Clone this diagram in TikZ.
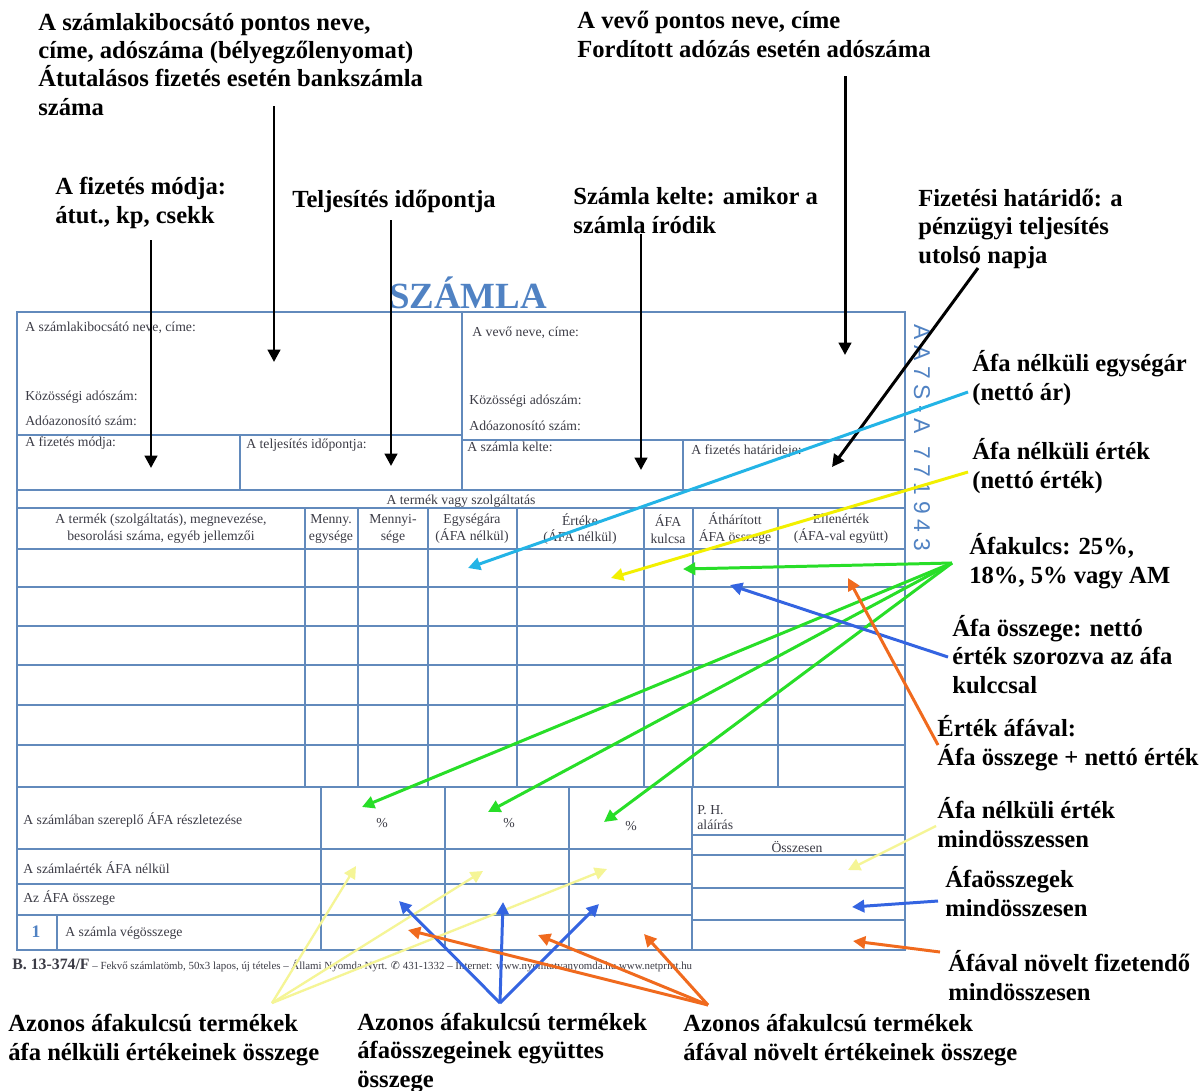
\documentclass[tikz,border=0pt]{standalone}
\usepackage{fontspec}
\setmainfont{Liberation Serif}
\newfontfamily\codefont[LetterSpace=25]{Liberation Sans}
\newfontfamily\symfont{DejaVu Sans}
\usetikzlibrary{arrows.meta}
\definecolor{formblue}{RGB}{98,138,188}
\definecolor{titleblue}{RGB}{80,130,195}
\definecolor{formtext}{RGB}{60,60,70}
\definecolor{arrcyan}{RGB}{35,180,230}
\definecolor{arryellow}{RGB}{242,240,0}
\definecolor{arrpale}{RGB}{245,245,150}
\definecolor{arrgreen}{RGB}{40,222,40}
\definecolor{arrblue}{RGB}{52,100,225}
\definecolor{arrorange}{RGB}{240,106,30}
\tikzset{
  note/.style={font=\fontsize{14}{16}\selectfont\bfseries,align=left,anchor=base west,inner sep=0pt},
  formtxt/.style={font=\fontsize{7.8}{9.5}\selectfont,text=formtext,anchor=base west,inner sep=0pt},
  colhead/.style={font=\fontsize{7.8}{9.6}\selectfont,text=formtext,align=center,inner sep=0pt},
  formframe/.style={draw=formblue,line width=1.6pt},
  formline/.style={draw=formblue,line width=1.1pt},
  arr/.style={line width=1.7pt,-{Triangle[length=7pt,width=7pt]}}
}

\begin{document}
\begin{tikzpicture}[x=0.02cm,y=-0.02cm]
\useasboundingbox[fill=white] (0,0) rectangle (1204,1090);

% the form
\draw[formframe] (17,312) rectangle (905,950);
\draw[formline] (462,312) -- (462,490);
\draw[formline] (17,435) -- (462,435);
\draw[formline] (462,440) -- (905,440);
\draw[formline] (240,435) -- (240,490);
\draw[formline] (683,440) -- (683,490);
\draw[formline] (17,490) -- (905,490);
\draw[formline] (17,508) -- (905,508);
\foreach \y in {549,587,626,665,705,745,787}
  \draw[formline] (17,\y) -- (905,\y);
\foreach \x in {305,358,428,517,644,693,778}
  \draw[formline] (\x,508) -- (\x,787);
\foreach \x in {321,445,569,692}
  \draw[formline] (\x,787) -- (\x,950);
\foreach \y in {849,884,915}
  \draw[formline] (17,\y) -- (692,\y);
\foreach \y in {835,855,888,920}
  \draw[formline] (692,\y) -- (905,\y);
\draw[formline] (57,915) -- (57,950);

\node[font=\fontsize{21}{21}\selectfont\bfseries,text=titleblue] (title) at (468,293) {SZÁMLA};
\node[font=\codefont\fontsize{13}{13}\selectfont,text=titleblue,rotate=-90,anchor=west] (code) at (922,318) {AA7S-A 771943};

\node[formtxt] (sellerName) at (25,331) {A számlakibocsátó neve, címe:};
\node[formtxt] (sellerEu) at (25,400) {Közösségi adószám:};
\node[formtxt] (sellerTax) at (25,425) {Adóazonosító szám:};
\node[formtxt] (payMode) at (25,446) {A fizetés módja:};
\node[formtxt] (perfDate) at (246,448) {A teljesítés időpontja:};
\node[formtxt] (buyerName) at (472,336) {A vevő neve, címe:};
\node[formtxt] (buyerEu) at (469,404) {Közösségi adószám:};
\node[formtxt] (buyerTax) at (469,430) {Adóazonosító szám:};
\node[formtxt] (issueDate) at (467,451) {A számla kelte:};
\node[formtxt] (dueDate) at (691,454) {A fizetés határideje:};
\node[colhead] (goods) at (461,501) {A termék vagy szolgáltatás};
\node[colhead] (hName) at (161,529) {A termék (szolgáltatás), megnevezése,\\besorolási száma, egyéb jellemzői};
\node[colhead] (hUnit) at (331,529) {Menny.\\egysége};
\node[colhead] (hQty) at (393,529) {Mennyi-\\sége};
\node[colhead] (hPrice) at (472,529) {Egységára\\(ÁFA nélkül)};
\node[colhead] (hValue) at (580,529) {Értéke\\(ÁFA nélkül)};
\node[colhead] (hRate) at (668,529) {ÁFA\\kulcsa};
\node[colhead] (hVat) at (735,529) {Áthárított\\ÁFA összege};
\node[colhead] (hGross) at (841,529) {Ellenérték\\(ÁFA-val együtt)};
\node[formtxt] (vatSplit) at (23,824) {A számlában szereplő ÁFA részletezése};
\node[colhead] (pctA) at (382,823) {\%};
\node[colhead] (pctB) at (509,823) {\%};
\node[colhead] (pctC) at (631,826) {\%};
\node[formtxt] (stamp) at (697,814) {P. H.};
\node[formtxt] (sign) at (697,829) {aláírás};
\node[colhead] (sumHead) at (797,847) {Összesen};
\node[formtxt] (rowNet) at (23,873) {A számlaérték ÁFA nélkül};
\node[formtxt] (rowVat) at (23,902) {Az ÁFA összege};
\node[font=\fontsize{10}{10}\selectfont\bfseries,text=titleblue] (one) at (36,932) {1};
\node[formtxt] (rowTotal) at (65,936) {A számla végösszege};
\node[anchor=base west,inner sep=0pt,text=formtext,font=\fontsize{6.2}{7}\selectfont] (foot) at (12,969)
  {{\fontsize{9}{9}\selectfont\bfseries B. 13-374/F} – Fekvő számlatömb, 50x3 lapos, új tételes – Állami Nyomda Nyrt. {\symfont ✆} 431-1332 – Internet: www.nyomtatvanyomda.hu www.netprint.hu};

% arrow ends
\coordinate (sSeller) at (274,106);  \coordinate (pSeller) at (274,362);
\coordinate (sBuyer) at (845,76);    \coordinate (pBuyer) at (845,355);
\coordinate (sMode) at (151,240);    \coordinate (pMode) at (151,468);
\coordinate (sPerf) at (391,220);    \coordinate (pPerf) at (391,466);
\coordinate (sDate) at (641,234);    \coordinate (pDate) at (641,470);
\coordinate (sDue) at (978,268);     \coordinate (pDue) at (832,467);
\coordinate (sUnit) at (968,392);    \coordinate (pUnit) at (468,568);
\coordinate (sNet) at (968,472);     \coordinate (pNet) at (611,578);
\coordinate (sRate) at (952,563);    \coordinate (pRate) at (683,569);
\coordinate (pPctA) at (362,807);    \coordinate (pPctB) at (488,812);
\coordinate (pPctC) at (604,822);
\coordinate (sVat) at (948,657);     \coordinate (pVat) at (730,585);
\coordinate (sGross) at (938,745);   \coordinate (pGross) at (848,578);
\coordinate (sNetSum) at (936,826);  \coordinate (pNetSum) at (848,870);
\coordinate (sVatSum) at (938,901);  \coordinate (pVatSum) at (852,907);
\coordinate (sTotSum) at (940,952);  \coordinate (pTotSum) at (853,941);
\coordinate (sNetRow) at (272,1003); \coordinate (pNetA) at (356,866);
\coordinate (pNetB) at (483,871);    \coordinate (pNetC) at (607,869);
\coordinate (sVatRow) at (500,1003); \coordinate (pVatA) at (399,901);
\coordinate (pVatB) at (503,902);    \coordinate (pVatC) at (599,904);
\coordinate (sTotRow) at (708,1005); \coordinate (pTotA) at (408,930);
\coordinate (pTotB) at (538,935);    \coordinate (pTotC) at (644,934);

% arrows
\draw[arr,black] (sSeller) -- (pSeller);
\draw[arr,black] (sBuyer) -- (pBuyer);
\draw[arr,black] (sMode) -- (pMode);
\draw[arr,black] (sPerf) -- (pPerf);
\draw[arr,black] (sDate) -- (pDate);
\draw[arr,black] (sDue) -- (pDue);
\draw[arr,arrcyan] (sUnit) -- (pUnit);
\draw[arr,arryellow] (sNet) -- (pNet);
\draw[arr,arrgreen] (sRate) -- (pRate);
\draw[arr,arrgreen] (sRate) -- (pPctA);
\draw[arr,arrgreen] (sRate) -- (pPctB);
\draw[arr,arrgreen] (sRate) -- (pPctC);
\draw[arr,arrblue] (sVat) -- (pVat);
\draw[arr,arrorange] (sGross) -- (pGross);
\draw[arr,arrpale,line width=1.3pt] (sNetSum) -- (pNetSum);
\draw[arr,arrblue] (sVatSum) -- (pVatSum);
\draw[arr,arrorange] (sTotSum) -- (pTotSum);
\draw[arr,arrpale,line width=1.3pt] (sNetRow) -- (pNetA);
\draw[arr,arrpale,line width=1.3pt] (sNetRow) -- (pNetB);
\draw[arr,arrpale,line width=1.3pt] (sNetRow) -- (pNetC);
\draw[arr,arrblue] (sVatRow) -- (pVatA);
\draw[arr,arrblue] (sVatRow) -- (pVatB);
\draw[arr,arrblue] (sVatRow) -- (pVatC);
\draw[arr,arrorange] (sTotRow) -- (pTotA);
\draw[arr,arrorange] (sTotRow) -- (pTotB);
\draw[arr,arrorange] (sTotRow) -- (pTotC);

% notes (base = baseline of the last line)
\node[note] (nSeller) at (38,115) {A számlakibocsátó pontos neve,\\címe, adószáma (bélyegzőlenyomat)\\Átutalásos fizetés esetén bankszámla\\száma};
\node[note] (nBuyer) at (577,57) {A vevő pontos neve, címe\\Fordított adózás esetén adószáma};
\node[note] (nMode) at (55,223) {A fizetés módja:\\átut., kp, csekk};
\node[note] (nPerf) at (292,207) {Teljesítés időpontja};
\node[note] (nDate) at (573,233) {Számla kelte: amikor a\\számla íródik};
\node[note] (nDue) at (918,263) {Fizetési határidő: a\\pénzügyi teljesítés\\utolsó napja};
\node[note] (nUnit) at (972,400) {Áfa nélküli egységár\\(nettó ár)};
\node[note] (nNet) at (972,488) {Áfa nélküli érték\\(nettó érték)};
\node[note] (nRate) at (969,583) {Áfakulcs: 25\%,\\18\%, 5\% vagy AM};
\node[note] (nVat) at (952,693) {Áfa összege: nettó\\érték szorozva az áfa\\kulccsal};
\node[note] (nGross) at (937,765) {Érték áfával:\\Áfa összege + nettó érték};
\node[note] (nNetSum) at (937,847) {Áfa nélküli érték\\mindösszessen};
\node[note] (nVatSum) at (945,916) {Áfaösszegek\\mindösszesen};
\node[note] (nTotSum) at (948,1000) {Áfával növelt fizetendő\\mindösszesen};
\node[note] (nNetRow) at (8,1060) {Azonos áfakulcsú termékek\\áfa nélküli értékeinek összege};
\node[note] (nVatRow) at (357,1087) {Azonos áfakulcsú termékek\\áfaösszegeinek együttes\\összege};
\node[note] (nTotRow) at (683,1060) {Azonos áfakulcsú termékek\\áfával növelt értékeinek összege};
\end{tikzpicture}
\end{document}
